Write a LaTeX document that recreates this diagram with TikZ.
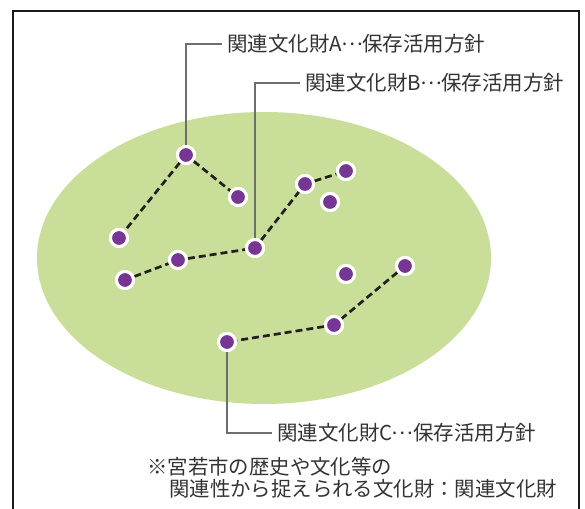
\documentclass[tikz,border=0pt]{standalone}
\usepackage{fontspec}
\newfontfamily\jp{Noto Sans CJK JP}
\newcommand{\fwell}{\makebox[1em][c]{\raisebox{0.3em}{…}}}
\definecolor{field}{HTML}{C9DE98}
\definecolor{dotfill}{HTML}{773594}
\definecolor{ink}{HTML}{333333}
\definecolor{leadgray}{HTML}{6E6E6E}
\definecolor{dashink}{HTML}{231F20}
\tikzset{
  dot/.style={circle, fill=dotfill, draw=white, line width=3pt, minimum size=17pt, inner sep=0pt},
  dashline/.style={draw=dashink, line width=2.7pt, dash pattern=on 7pt off 4pt},
  leader/.style={draw=leadgray, line width=1.5pt},
  lab/.style={font=\jp\fontsize{20.5pt}{22pt}\selectfont, text=ink, inner sep=0pt, outer sep=5pt, anchor=west},
  note/.style={font=\jp\fontsize{20.4pt}{22pt}\selectfont, text=ink, inner sep=0pt, anchor=west},
  frame/.style={draw=black!90, line width=2.2pt}
}
\begin{document}
\begin{tikzpicture}[x=1pt,y=-1pt]
\useasboundingbox (0,0) rectangle (585,508);
\clip (0,0) rectangle (585,508);
\fill[white] (0,0) rectangle (585,508);
\fill[field] (264,258) ellipse [x radius=227, y radius=146];
\draw[frame] (13,11) rectangle (579,540);

% dots
\node[dot] (a1) at (186,155) {};
\node[dot] (a2) at (238,197) {};
\node[dot] (a3) at (119,238) {};
\node[dot] (b1) at (125,280) {};
\node[dot] (b2) at (178,260) {};
\node[dot] (b3) at (255,248) {};
\node[dot] (b4) at (305,184) {};
\node[dot] (b5) at (346,171) {};
\node[dot] (i1) at (330,202) {};
\node[dot] (i2) at (346,274) {};
\node[dot] (c1) at (405,266) {};
\node[dot] (c2) at (334,325) {};
\node[dot] (c3) at (227,342) {};

% labels
\node[lab] (la) at (222,44) {関連文化財A\fwell 保存活用方針};
\node[lab] (lb) at (300,83) {関連文化財B\fwell 保存活用方針};
\node[lab] (lc) at (272,433) {関連文化財C\fwell 保存活用方針};
\node[note] (n1) at (147,467) {※宮若市の歴史や文化等の};
\node[note] (n2) at (169,489) {関連性から捉えられる文化財：関連文化財};

% leaders and dashed links, then dots redrawn on top
\draw[leader] (a1.center) |- (la.west);
\draw[leader] (b3.center) |- (lb.west);
\draw[leader] (c3.center) |- (lc.west);

\draw[dashline] (a1) -- (a2);
\draw[dashline] (a1) -- (a3);
\draw[dashline] (b1) -- (b2);
\draw[dashline] (b2) -- (b3);
\draw[dashline] (b3) -- (b4);
\draw[dashline] (b4) -- (b5);
\draw[dashline] (c1) -- (c2);
\draw[dashline] (c2) -- (c3);

\foreach \n in {a1,a2,a3,b1,b2,b3,b4,b5,i1,i2,c1,c2,c3}
  \node[dot] at (\n.center) {};
\end{tikzpicture}
\end{document}
